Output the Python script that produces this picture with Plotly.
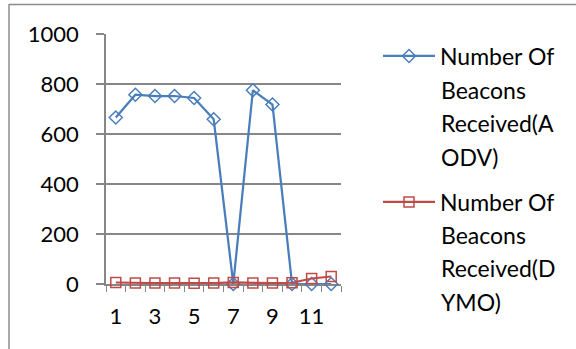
import plotly.graph_objects as go

categories = [1, 2, 3, 4, 5, 6, 7, 8, 9, 10, 11, 12]
aodv = [666, 757, 752, 752, 744, 659, 0, 775, 718, 0, 0, 0]
dymo = [6, 4, 4, 4, 3, 4, 6, 4, 4, 5, 22, 30]
x_tick_vals = [1, 3, 5, 7, 9, 11]
y_tick_vals = [0, 200, 400, 600, 800, 1000]
name1_lines = ["Number Of", "Beacons", "Received(A", "ODV)"]
name2_lines = ["Number Of", "Beacons", "Received(D", "YMO)"]

W, H = 576, 349
L, R, T, B = 106, 341, 34, 284
FONT = "Lato"
FS = 22
LFS = 23

def px(x):
    return (x - L) / (R - L)

def py(y):
    return (B - y) / (B - T)

fig = go.Figure()
fig.add_trace(go.Scatter(
    x=categories, y=aodv, mode="lines+markers", name=name1_lines[0],
    line=dict(color="#4A7EBB", width=2.25),
    marker=dict(symbol="diamond-open", size=10, color="#4A7EBB", line=dict(width=1.5)),
    legend="legend", showlegend=True, cliponaxis=False,
))
fig.add_trace(go.Scatter(
    x=categories, y=dymo, mode="lines+markers", name=name2_lines[0],
    line=dict(color="#BE4B48", width=2.25),
    marker=dict(symbol="square-open", size=10, color="#BE4B48", line=dict(width=1.5)),
    legend="legend2", showlegend=True, cliponaxis=False,
))

annotations = []
line_y1 = [56, 90, 123, 157]
line_y2 = [202, 235, 268, 302]
for lines, ys in ((name1_lines, line_y1), (name2_lines, line_y2)):
    for txt, yy in zip(lines[1:], ys[1:]):
        annotations.append(dict(
            text=txt, xref="paper", yref="paper", x=px(439), y=py(yy),
            xanchor="left", yanchor="middle", showarrow=False,
            font=dict(family=FONT, size=LFS, color="#000000"),
        ))

legend_common = dict(
    xanchor="left", yanchor="middle", bgcolor="rgba(0,0,0,0)",
    font=dict(family=FONT, size=LFS, color="#000000"), itemwidth=52,
)

frame_color = "#8C8C8C"
fig.update_layout(
    width=W, height=H,
    showlegend=True,
    margin=dict(l=L, r=W - R, t=T, b=H - B, pad=0),
    paper_bgcolor="white", plot_bgcolor="white",
    font=dict(family=FONT, size=FS, color="#000000"),
    legend=dict(x=px(378), y=py(56), **legend_common),
    legend2=dict(x=px(378), y=py(202), **legend_common),
    annotations=annotations,
    shapes=[
        dict(type="line", xref="paper", yref="paper",
             x0=px(9), x1=px(9), y0=py(349), y1=py(4),
             line=dict(color=frame_color, width=1.5), layer="above"),
        dict(type="line", xref="paper", yref="paper",
             x0=px(9), x1=px(576), y0=py(4.5), y1=py(4.5),
             line=dict(color=frame_color, width=1.5), layer="above"),
    ],
    xaxis=dict(
        range=[0.5, 12.5], tickvals=x_tick_vals, ticktext=[str(v) for v in x_tick_vals],
        showgrid=False, zeroline=False, showline=True, linecolor="#868686", linewidth=1.5,
        ticks="outside", ticklen=0, tickcolor="#868686", layer="below traces",
        minor=dict(tick0=0.5, dtick=1, ticks="outside", ticklen=6, tickcolor="#868686", showgrid=False),
        tickfont=dict(family=FONT, size=FS), ticklabelstandoff=12,
    ),
    yaxis=dict(
        range=[0, 1000], tickvals=y_tick_vals,
        showgrid=True, gridcolor="#868686", gridwidth=1.5, zeroline=False,
        showline=True, linecolor="#868686", linewidth=1.5, layer="below traces",
        ticks="outside", ticklen=8, tickcolor="#868686", tickwidth=1.5,
        tickfont=dict(family=FONT, size=FS), ticklabelstandoff=13,
    ),
)

fig.write_html("out.html", config={"displayModeBar": False})
with open("out.html", "r", encoding="utf-8") as f:
    html = f.read()
html = html.replace("<body>", '<body style="margin:0;padding:0;overflow:hidden">', 1)
with open("out.html", "w", encoding="utf-8") as f:
    f.write(html)
